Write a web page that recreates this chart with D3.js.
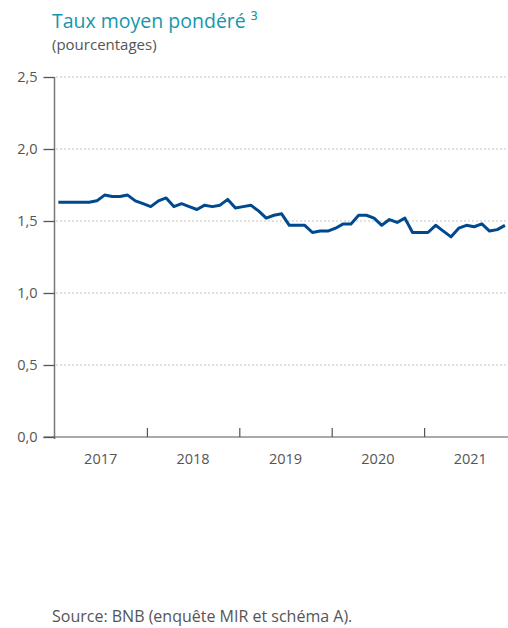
<!DOCTYPE html>
<html>
<head>
<meta charset="utf-8">
<script src="https://cdn.jsdelivr.net/npm/d3@7"></script>
<style>
  body { margin: 0; background: #fff; }
  svg { display: block; font-family: "Open Sans", "Noto Sans", sans-serif; }
</style>
</head>
<body>
<div id="chart"></div>
<script>
const years = ['2017', '2018', '2019', '2020', '2021']
const yTicks = [0, 0.5, 1.0, 1.5, 2.0, 2.5]
// monthly values, Jan 2017 - Nov 2021
const rates = [
  1.63, 1.63, 1.63, 1.63, 1.63, 1.64, 1.68, 1.67, 1.67, 1.68, 1.64, 1.62,
  1.60, 1.64, 1.66, 1.60, 1.62, 1.60, 1.58, 1.61, 1.60, 1.61, 1.65, 1.59,
  1.60, 1.61, 1.57, 1.52, 1.54, 1.55, 1.47, 1.47, 1.47, 1.42, 1.43, 1.43,
  1.45, 1.48, 1.48, 1.54, 1.54, 1.52, 1.47, 1.51, 1.49, 1.52, 1.42, 1.42,
  1.42, 1.47, 1.43, 1.39, 1.45, 1.47, 1.46, 1.48, 1.43, 1.44, 1.47
]

const w = 508
const h = 628
const plotLeft = 54.5
const plotRight = 516.5
const plotTop = 77
const plotBottom = 437

const x = d3.scaleLinear().domain([0, years.length * 12]).range([plotLeft, plotRight])
const y = d3.scaleLinear().domain([0, 2.5]).range([plotBottom, plotTop])

const svg = d3.select('#chart')
  .append('svg')
  .attr('width', w)
  .attr('height', h)

svg.append('text')
  .attr('x', 52).attr('y', 28)
  .attr('fill', '#1497ad')
  .style('font-size', '19.5px')
  .text('Taux moyen pondéré ³')

svg.append('text')
  .attr('x', 52).attr('y', 50)
  .attr('fill', '#555')
  .style('font-size', '15px')
  .text('(pourcentages)')

// dotted gridlines
svg.selectAll('.grid')
  .data(yTicks.filter(d => d > 0))
  .enter()
  .append('line')
  .attr('class', 'grid')
  .attr('x1', plotLeft + 2).attr('x2', w)
  .attr('y1', d => y(d)).attr('y2', d => y(d))
  .attr('stroke', '#888')
  .attr('stroke-width', 1)
  .attr('stroke-dasharray', '1,3')

// y axis
const yAxis = svg.append('g')
  .attr('transform', `translate(${plotLeft},0)`)
  .call(d3.axisLeft(y).tickValues(yTicks).tickSize(11).tickPadding(6)
    .tickFormat(d => d3.format('.1f')(d).replace('.', ',')))
yAxis.select('.domain').attr('stroke', '#777').attr('stroke-width', 1.5)
  .attr('d', `M0,${plotTop}V${plotBottom + 2}`)
yAxis.selectAll('.tick line').attr('stroke', '#555').attr('stroke-width', 1.3)
yAxis.selectAll('.tick text')
  .attr('fill', '#555')
  .style('font-size', '14.5px')
  .style('font-family', '"Open Sans", sans-serif')

// x axis: year boundaries
const xAxis = svg.append('g')
  .attr('transform', `translate(0,${plotBottom})`)
  .call(d3.axisBottom(x).tickValues([12, 24, 36, 48]).tickSize(-9).tickFormat(''))
xAxis.select('.domain').attr('stroke', '#555').attr('stroke-width', 1.2)
  .attr('d', `M${plotLeft - 11},0H${w}`)
xAxis.selectAll('.tick line').attr('stroke', '#555').attr('stroke-width', 1.2)

// year labels centred in each year
svg.append('g')
  .selectAll('text')
  .data(years)
  .enter()
  .append('text')
  .attr('x', (d, i) => x(i * 12 + 6))
  .attr('y', 464)
  .attr('text-anchor', 'middle')
  .attr('fill', '#555')
  .style('font-size', '14.5px')
  .text(d => d)

const line = d3.line()
  .x((d, i) => x(i + 0.5))
  .y(d => y(d))

svg.append('path')
  .datum(rates)
  .attr('d', line)
  .attr('fill', 'none')
  .attr('stroke', '#00498f')
  .attr('stroke-width', 3)
  .attr('stroke-linejoin', 'round')

svg.append('text')
  .attr('x', 52).attr('y', 622)
  .attr('fill', '#555')
  .style('font-size', '16px')
  .text('Source: BNB (enquête MIR et schéma A).')
</script>
</body>
</html>
